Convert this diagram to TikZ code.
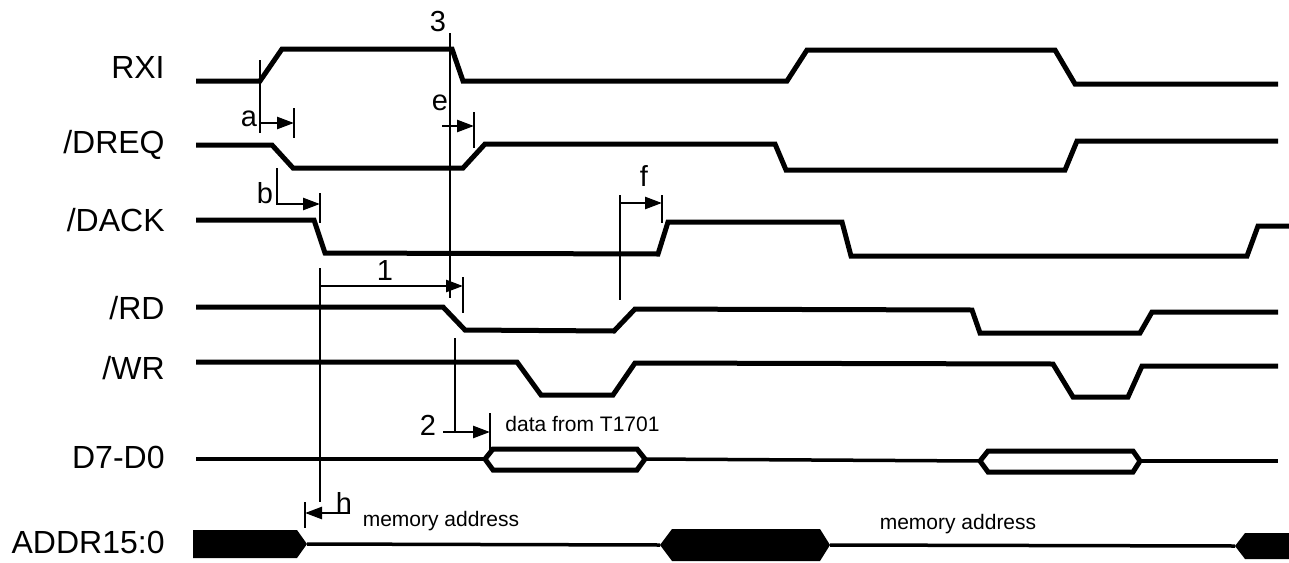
\documentclass[tikz,border=0pt]{standalone}
\usepackage{fontspec}
\setmainfont{Liberation Sans}
\usetikzlibrary{positioning,arrows.meta}

\begin{document}
\begin{tikzpicture}[x=0.5pt,y=-0.5pt,
		every node/.style={inner sep=0pt,
			font=\fontsize{14.5}{16}\selectfont,
		},
		signame/.style={anchor=east, font=\fontsize{16}{18}\selectfont},
		note/.style={anchor=west, font=\fontsize{10.5}{12}\selectfont},
		wave/.style={line width=2.5pt},
		bus/.style={line width=1.75pt},
		guide/.style={line width=1.25pt},
		delay/.style={line width=1.25pt, -{Triangle[length=8.5pt,width=6pt]}},
		]

		\useasboundingbox (0,0) rectangle (1289,562);

		% signal names
		\node (rxi)  [signame] at (165,67)  {RXI};
		\node (dreq) [signame] at (165,145) {/DREQ};
		\node (dack) [signame] at (165,220) {/DACK};
		\node (rd)   [signame] at (165,308) {/RD};
		\node (wr)   [signame] at (165,368) {/WR};
		\node (data) [signame] at (165,457) {D7-D0};
		\node (addr) [signame] at (165,542) {ADDR15:0};

		% waveforms
		\draw[wave] (196,81) -- (260,81) -- (282,49) -- (452,49) -- (463,81) -- (787,81) -- (807,50) -- (1055,50) -- (1075,84) -- (1278,84);
		\draw[wave] (196,145) -- (272,145) -- (293,168) -- (463,168) -- (485,144) -- (775,144) -- (786,170) -- (1065,170) -- (1077,141) -- (1278,141);
		\draw[wave] (196,220) -- (314,220) -- (325,253) -- (658,254) -- (668,222) -- (842,222) -- (851,256) -- (1247,256) -- (1258,226) -- (1289,226);
		\draw[wave] (196,307) -- (443,307) -- (465,330) -- (614,331) -- (635,309) -- (972,310) -- (980,333) -- (1140,333) -- (1152,312) -- (1278,312);
		\draw[wave] (196,362) -- (517,362) -- (541,395) -- (613,395) -- (635,363) -- (1053,364) -- (1073,397) -- (1128,397) -- (1142,366) -- (1278,366);

		% data bus
		\draw[bus] (196,459) -- (485,459);
		\draw[wave] (485,459) -- (493,449) -- (637,449) -- (645,459) -- (637,470) -- (493,470) -- cycle;
		\draw[bus] (645,459) -- (980,461);
		\draw[wave] (980,461) -- (988,451) -- (1133,451) -- (1140,461) -- (1133,472) -- (988,472) -- cycle;
		\draw[bus] (1140,461) -- (1278,461);

		% address bus
		\fill (193,530) -- (297,530) -- (307,544) -- (297,558) -- (193,558) -- cycle;
		\draw[bus] (307,544) -- (660,545);
		\fill (660,545) -- (672,529) -- (820,529) -- (830,545) -- (820,561) -- (672,561) -- cycle;
		\draw[bus] (830,545) -- (1235,546);
		\fill (1235,546) -- (1245,533) -- (1289,533) -- (1289,559) -- (1245,559) -- cycle;

		% timing references
		\coordinate (ref3top) at (450,33);
		\coordinate (ref3bot) at (450,298);
		\coordinate (ref1top) at (320,268);
		\coordinate (ref1bot) at (320,502);
		\coordinate (ref2top) at (455,338);
		\coordinate (ref2bot) at (455,432);
		\coordinate (reffTop) at (620,195);
		\coordinate (reffBot) at (620,300);
		\draw[guide] (ref3top) -- (ref3bot);
		\draw[guide] (ref1top) -- (ref1bot);
		\draw[guide] (ref2top) -- (ref2bot);
		\draw[guide] (reffTop) -- (reffBot);
		\node (lab3) at (438,22) {3};

		% a
		\coordinate (aStart) at (260,123);
		\coordinate (aEnd) at (294,123);
		\draw[guide] (260,60) -- (260,133);
		\draw[guide] (294,108) -- (294,138);
		\draw[delay] (aStart) -- (aEnd);
		\node (laba) at (249,119) {a};

		% e
		\coordinate (eStart) at (442,126);
		\coordinate (eEnd) at (474,126);
		\draw[guide] (474,112) -- (474,148);
		\draw[delay] (eStart) -- (eEnd);
		\node (labe) at (440,103) {e};

		% b
		\coordinate (bStart) at (277,204);
		\coordinate (bEnd) at (320,204);
		\draw[guide] (277,168) -- (277,205);
		\draw[guide] (320,193) -- (320,223);
		\draw[delay] (bStart) -- (bEnd);
		\node (labb) at (265,193) {b};

		% 1
		\coordinate (oneStart) at (320,286);
		\coordinate (oneEnd) at (463,286);
		\draw[guide] (463,277) -- (463,313);
		\draw[delay] (oneStart) -- (oneEnd);
		\node (lab1) at (385,271) {1};

		% 2
		\coordinate (twoStart) at (443,432);
		\coordinate (twoEnd) at (490,432);
		\draw[guide] (490,413) -- (490,452);
		\draw[delay] (twoStart) -- (twoEnd);
		\node (lab2) at (428,425) {2};
		\node (dtext) [note] at (505,424) {data from T1701};

		% f
		\coordinate (fStart) at (620,203);
		\coordinate (fEnd) at (662,203);
		\draw[guide] (662,195) -- (662,223);
		\draw[delay] (fStart) -- (fEnd);
		\node (labf) at (644,176) {f};

		% h
		\coordinate (hStart) at (350,513);
		\coordinate (hEnd) at (305,513);
		\draw[guide] (305,502) -- (305,528);
		\draw[delay] (hStart) -- (hEnd);
		\node (labh) at (344,503) {h};
		\node (maddr1) at (441,521) [font=\fontsize{10.5}{12}\selectfont] {memory address};
		\node (maddr2) at (958,524) [font=\fontsize{10.5}{12}\selectfont] {memory address};

	\end{tikzpicture}
\end{document}
